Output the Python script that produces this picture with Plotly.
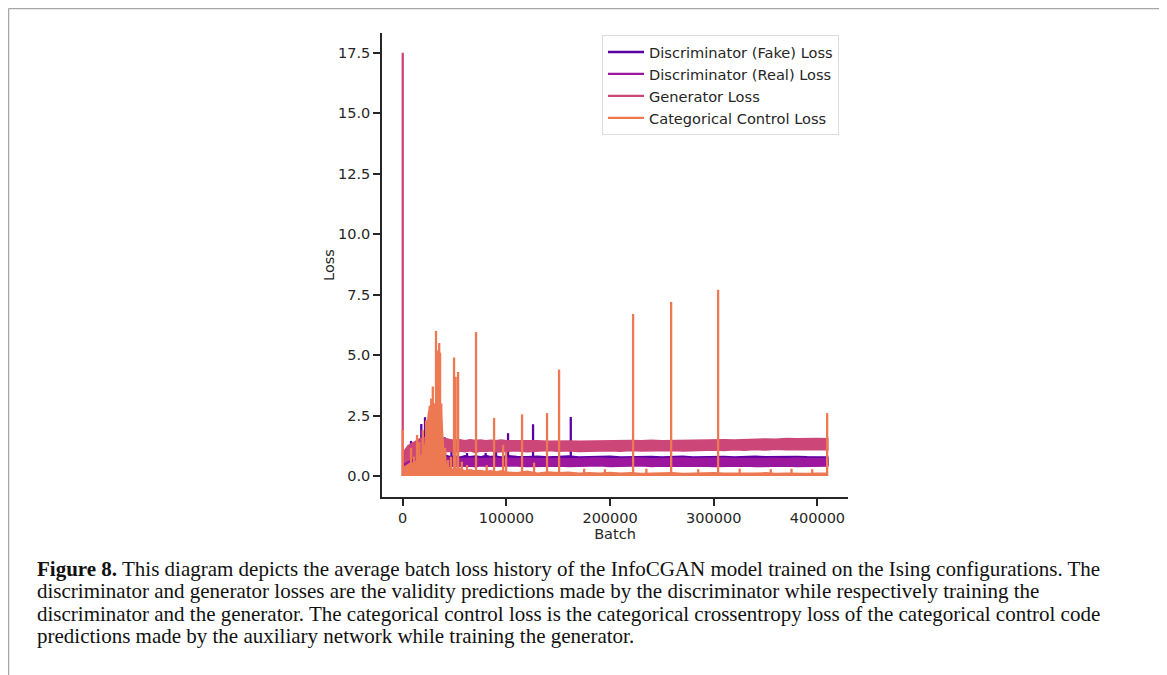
import plotly.graph_objects as go

# ---------------- data ----------------
band_x = [1000, 3000, 5000, 7000, 9000, 11000, 13000, 15000, 17000, 19000,
          21000, 23000, 25000, 27000, 29000, 31000, 33000, 35000, 37000, 39000,
          42000, 46000, 50000, 55000, 60000, 65000, 70000, 75000, 80000, 85000, 90000, 95000,
          100000, 110000, 120000, 130000, 140000, 150000, 160000, 170000, 180000, 190000,
          200000, 210000, 220000, 230000, 240000, 250000, 260000, 270000, 280000, 290000,
          300000, 310000, 320000, 330000, 340000, 350000, 360000, 370000, 380000, 390000,
          400000, 410000]

fake_hi = [0.9, 0.95, 1.0, 1.05, 1.1, 1.1, 1.15, 1.2, 1.2, 1.25,
           1.25, 1.3, 1.3, 1.3, 1.25, 1.3, 1.25, 1.2, 1.1, 1.0,
           0.85, 0.8, 0.82, 0.78, 0.84, 0.8, 0.83, 0.79, 0.85, 0.8, 0.82, 0.78,
           0.84, 0.8, 0.79, 0.82, 0.78, 0.8, 0.83, 0.78, 0.8, 0.79,
           0.82, 0.78, 0.8, 0.79, 0.81, 0.78, 0.8, 0.82, 0.78, 0.8,
           0.79, 0.81, 0.78, 0.8, 0.82, 0.79, 0.8, 0.78, 0.81, 0.79,
           0.8, 0.78]
fake_lo = [0.3, 0.3, 0.35, 0.35, 0.4, 0.4, 0.4, 0.45, 0.45, 0.45,
           0.45, 0.45, 0.45, 0.45, 0.45, 0.45, 0.45, 0.45, 0.45, 0.45,
           0.45, 0.45, 0.45, 0.45, 0.45, 0.45, 0.45, 0.45, 0.45, 0.45, 0.45, 0.45,
           0.45, 0.45, 0.45, 0.45, 0.45, 0.45, 0.45, 0.45, 0.45, 0.45,
           0.45, 0.45, 0.45, 0.45, 0.45, 0.45, 0.45, 0.45, 0.45, 0.45,
           0.45, 0.45, 0.45, 0.45, 0.45, 0.45, 0.45, 0.45, 0.45, 0.45,
           0.45, 0.45]

real_hi = [0.8, 0.85, 0.9, 0.95, 0.95, 1.0, 1.0, 1.05, 1.05, 1.1,
           1.1, 1.15, 1.2, 1.2, 1.2, 1.2, 1.15, 1.1, 1.0, 0.9,
           0.76, 0.72, 0.74, 0.71, 0.73, 0.72, 0.74, 0.71, 0.73, 0.72, 0.74, 0.71,
           0.73, 0.72, 0.74, 0.71, 0.73, 0.72, 0.71, 0.73, 0.72, 0.74,
           0.71, 0.73, 0.72, 0.74, 0.71, 0.73, 0.72, 0.74, 0.72, 0.73,
           0.71, 0.74, 0.72, 0.73, 0.74, 0.72, 0.73, 0.71, 0.74, 0.72,
           0.73, 0.72]
real_lo = [0.2, 0.25, 0.3, 0.3, 0.3, 0.35, 0.35, 0.35, 0.4, 0.4,
           0.4, 0.4, 0.4, 0.4, 0.4, 0.4, 0.4, 0.4, 0.4, 0.4,
           0.4, 0.41, 0.39, 0.42, 0.4, 0.41, 0.38, 0.42, 0.4, 0.41, 0.39, 0.42,
           0.4, 0.41, 0.39, 0.42, 0.4, 0.41, 0.39, 0.41, 0.4, 0.42,
           0.39, 0.41, 0.4, 0.42, 0.39, 0.41, 0.4, 0.42, 0.4, 0.41,
           0.39, 0.42, 0.4, 0.41, 0.39, 0.42, 0.4, 0.41, 0.39, 0.42,
           0.4, 0.41]

gen_hi = [1.0, 1.15, 1.25, 1.3, 1.35, 1.4, 1.45, 1.5, 1.55, 1.55,
          1.6, 1.62, 1.6, 1.65, 1.6, 1.65, 1.62, 1.6, 1.58, 1.55,
          1.52, 1.5, 1.48, 1.5, 1.46, 1.5, 1.47, 1.49, 1.46, 1.48, 1.46, 1.49,
          1.46, 1.47, 1.45, 1.46, 1.44, 1.46, 1.45, 1.44, 1.45, 1.44,
          1.46, 1.45, 1.47, 1.46, 1.48, 1.46, 1.47, 1.48, 1.47, 1.49,
          1.48, 1.5, 1.49, 1.51, 1.5, 1.53, 1.52, 1.55, 1.54, 1.56,
          1.55, 1.54]
gen_lo = [0.55, 0.6, 0.65, 0.7, 0.72, 0.75, 0.78, 0.8, 0.82, 0.85,
          0.85, 0.88, 0.9, 0.92, 0.9, 0.95, 0.97, 0.95, 1.0, 1.0,
          1.0, 1.02, 0.98, 1.03, 1.0, 1.04, 0.97, 1.03, 1.01, 1.04, 0.99, 1.03,
          1.02, 1.04, 1.0, 1.03, 1.05, 1.02, 1.04, 1.01, 1.05, 1.03,
          1.04, 1.02, 1.05, 1.03, 1.06, 1.04, 1.05, 1.03, 1.06, 1.05,
          1.07, 1.05, 1.08, 1.06, 1.09, 1.07, 1.1, 1.08, 1.09, 1.08,
          1.09, 1.08]

cat_hi = [0.35, 0.4, 0.45, 0.5, 0.5, 0.55, 0.6, 0.7, 0.75, 0.9,
          1.1, 1.6, 2.6, 2.9, 3.0, 2.9, 3.0, 2.8, 2.6, 1.2,
          0.4, 0.3, 0.25, 0.3, 0.2, 0.25, 0.2, 0.22, 0.18, 0.2, 0.15, 0.2,
          0.15, 0.12, 0.18, 0.1, 0.15, 0.12, 0.14, 0.1, 0.12, 0.1,
          0.13, 0.1, 0.12, 0.09, 0.11, 0.1, 0.12, 0.09, 0.11, 0.1,
          0.12, 0.1, 0.09, 0.11, 0.1, 0.12, 0.09, 0.1, 0.11, 0.09,
          0.1, 0.1]

# isolated spikes: batch position and peak loss
fake_spike_x = [8000, 12000, 17900, 21500, 26000, 37000, 40500, 47000, 62000,
                80000, 90000, 101600, 125700, 162100]
fake_spike_y = [1.45, 1.2, 2.15, 2.43, 1.6, 2.2, 1.6, 1.05, 0.95,
                0.95, 1.0, 1.77, 2.14, 2.44]
real_spike_x = [6000, 14000, 30000]
real_spike_y = [1.1, 1.25, 1.5]
gen_spike_x = [0]
gen_spike_y = [17.5]
cat_spike_x = [0, 8000, 11000, 13800, 16000, 19300, 22500, 24000, 26000, 27500,
               29000, 30500, 32100, 33300, 34200, 35200, 36000, 37200, 38500, 41000,
               43700, 46500, 49500, 51000, 53400, 57000, 62000, 70700, 81000, 88100,
               96800, 99700, 115100, 126700, 139200, 150800, 175000, 195000, 222200, 235000,
               258900, 285000, 304200, 325000, 355000, 375000, 395000, 409400]
cat_spike_y = [1.9, 1.16, 0.8, 1.7, 1.4, 1.9, 2.3, 2.0, 2.9, 3.2,
               3.7, 3.0, 6.0, 4.5, 5.2, 5.5, 5.1, 3.0, 1.5, 1.16,
               0.66, 0.8, 4.9, 4.1, 4.3, 0.59, 0.45, 5.95, 0.45, 2.4,
               1.28, 1.0, 2.55, 0.55, 2.6, 4.4, 0.3, 0.28, 6.7, 0.3,
               7.2, 0.28, 7.7, 0.3, 0.28, 0.3, 0.28, 2.6]

names = ["Discriminator (Fake) Loss", "Discriminator (Real) Loss",
         "Generator Loss", "Categorical Control Loss"]
colors = ["#5c01a6", "#9c179e", "#cc4778", "#ed7953"]
spike_base = [0.6, 0.5, 0.0, 0.0]

x_tickvals = [0, 100000, 200000, 300000, 400000]
x_ticktext = ["0", "100000", "200000", "300000", "400000"]
y_tickvals = [0.0, 2.5, 5.0, 7.5, 10.0, 12.5, 15.0, 17.5]

caption_lines = [
    "<b>Figure 8.</b> This diagram depicts the average batch loss history of the InfoCGAN model trained on the Ising configurations. The",
    "discriminator and generator losses are the validity predictions made by the discriminator while respectively training the",
    "discriminator and the generator. The categorical control loss is the categorical crossentropy loss of the categorical control code",
    "predictions made by the auxiliary network while training the generator.",
]

# ---------------- figure ----------------
OFF = 8                     # page body margin of the browser
W, H = 1159, 667
L, R, T, B = 382, 848, 33, 497  # plot area in screen pixels


def px(xp):
    return (xp - L) / (R - L)


def py(yp):
    return (B - yp) / (B - T)


bands = [(fake_lo, fake_hi), (real_lo, real_hi), (gen_lo, gen_hi), (None, cat_hi)]
spikes = [(fake_spike_x, fake_spike_y), (real_spike_x, real_spike_y),
          (gen_spike_x, gen_spike_y), (cat_spike_x, cat_spike_y)]

fig = go.Figure()
for i in range(4):
    lo, hi = bands[i]
    if lo is None:
        fig.add_trace(go.Scatter(x=band_x, y=hi, mode="lines", fill="tozeroy",
                                 line=dict(color=colors[i], width=2),
                                 fillcolor=colors[i], showlegend=False, hoverinfo="skip"))
    else:
        fig.add_trace(go.Scatter(x=band_x + band_x[::-1], y=hi + lo[::-1], mode="lines",
                                 fill="toself", line=dict(color=colors[i], width=1.5),
                                 fillcolor=colors[i], showlegend=False, hoverinfo="skip"))
    sx, sy = spikes[i]
    xs, ys = [], []
    for xv, yv in zip(sx, sy):
        xs += [xv, xv, None]
        ys += [spike_base[i], yv, None]
    fig.add_trace(go.Scatter(x=xs, y=ys, mode="lines", name=names[i],
                             line=dict(color=colors[i], width=2.3)))

axis_col = "#262626"
fig.update_layout(
    width=W, height=H,
    margin=dict(l=L - OFF, r=W - (R - OFF), t=T - OFF, b=H - (B - OFF), pad=0),
    paper_bgcolor="white", plot_bgcolor="white",
    font=dict(family="DejaVu Sans", size=14.5, color=axis_col),
    showlegend=True,
    legend=dict(x=px(602), y=py(35), xanchor="left", yanchor="top",
                bgcolor="white", bordercolor="#dcdcdc", borderwidth=1,
                font=dict(family="DejaVu Sans", size=14.6, color=axis_col),
                traceorder="normal", itemwidth=36, tracegroupgap=0),
    xaxis=dict(range=[-20000, 429500], showgrid=False, zeroline=False,
               showline=True, linecolor=axis_col, linewidth=1.5,
               ticks="outside", ticklen=7, tickwidth=1.5, tickcolor=axis_col,
               tickvals=x_tickvals, ticktext=x_ticktext, tickfont=dict(size=14.5),
               title=dict(text="Batch", standoff=0, font=dict(size=14.5))),
    yaxis=dict(range=[-0.87, 18.32], showgrid=False, zeroline=False,
               showline=True, linecolor=axis_col, linewidth=1.5,
               ticks="outside", ticklen=7, tickwidth=1.5, tickcolor=axis_col,
               tickvals=y_tickvals, tickformat=".1f", tickfont=dict(size=14.5),
               title=dict(text="Loss", standoff=0, font=dict(size=14.5))),
)

# caption
cap_y = [569, 591, 614, 636]
for txt, yy in zip(caption_lines, cap_y):
    fig.add_annotation(text=txt, xref="paper", yref="paper", x=px(35), y=py(yy),
                       xanchor="left", yanchor="middle", showarrow=False,
                       font=dict(family="Liberation Serif", size=21, color="#111111"))

# page frame
frame_col = "#a6a6a6"
fx0, fy0, fx1, fy1 = OFF + 0.5, OFF + 0.5, 1163, 680
fig.add_shape(type="line", xref="paper", yref="paper", x0=px(fx0), x1=px(fx0),
              y0=py(fy0), y1=py(fy1), line=dict(color=frame_col, width=1.5))
fig.add_shape(type="line", xref="paper", yref="paper", x0=px(fx0), x1=px(fx1),
              y0=py(fy0), y1=py(fy0), line=dict(color=frame_col, width=1.5))
fig.add_shape(type="line", xref="paper", yref="paper", x0=px(fx1), x1=px(fx1),
              y0=py(fy0), y1=py(fy1), line=dict(color=frame_col, width=1.5))

fig.write_html("out.html")
